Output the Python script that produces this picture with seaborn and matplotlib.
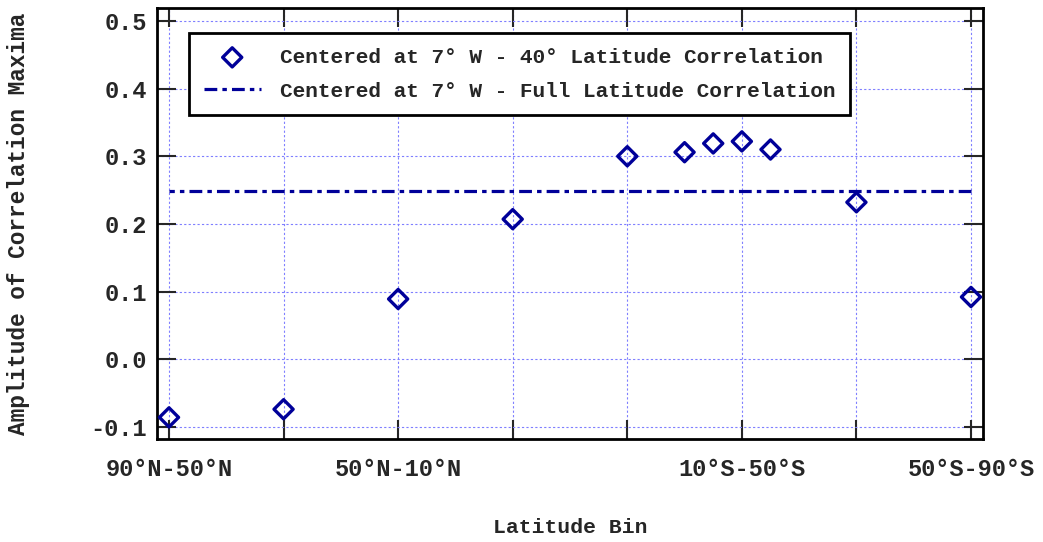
import numpy as np
import pandas as pd
import matplotlib
matplotlib.use('Agg')
import matplotlib.pyplot as plt
import seaborn as sns
from matplotlib.ticker import FormatStrFormatter

# latitude bin centres (degrees, north positive) and correlation maxima
lat_center = [70, 50, 30, 10, -10, -20, -25, -30, -35, -50, -70]
corr_max = [-0.086, -0.074, 0.089, 0.207, 0.300, 0.306, 0.319, 0.322, 0.310, 0.232, 0.092]

# full latitude correlation (constant)
full_lat = [70, -70]
full_corr = [0.248, 0.248]

tick_pos = [70, 50, 30, 10, -10, -30, -50, -70]
tick_labels = ['90°N-50°N', '', '50°N-10°N', '', '', '10°S-50°S', '', '50°S-90°S']
y_ticks = [-0.1, 0.0, 0.1, 0.2, 0.3, 0.4, 0.5]

sns.set_style('white')
plt.rcParams['font.family'] = ['Liberation Mono', 'DejaVu Sans Mono']
plt.rcParams['font.weight'] = 'bold'

navy = '#000099'

fig = plt.figure(figsize=(10.43, 5.42), dpi=100)
ax = fig.add_axes([0.1505, 0.19, 0.792, 0.795])

df = pd.DataFrame({'lat': lat_center, 'corr': corr_max})
sns.scatterplot(data=df, x='lat', y='corr', ax=ax, marker='D', s=95,
                facecolor='none', edgecolor=navy, linewidth=2.4, zorder=5,
                label='Centered at 7° W - 40° Latitude Correlation')
sns.lineplot(x=full_lat, y=full_corr, ax=ax, color=navy, linewidth=2.3,
             dashes=False, zorder=4,
             label='Centered at 7° W - Full Latitude Correlation')
ax.lines[-1].set_dashes([4, 1.6, 1.4, 1.6])

ax.set_xlim(72.1, -72.1)
ax.set_ylim(-0.118, 0.519)
ax.set_xticks(tick_pos)
ax.set_xticklabels(tick_labels)
ax.set_yticks(y_ticks)
ax.yaxis.set_major_formatter(FormatStrFormatter('%.1f'))

ax.grid(True, color='#7f7fff', linestyle=(0, (2, 2)), linewidth=0.8)
ax.set_axisbelow(True)

for sp in ax.spines.values():
    sp.set_visible(True)
    sp.set_color('black')
    sp.set_linewidth(2)

ax.tick_params(axis='both', direction='in', length=14, width=1.5,
               top=True, right=True, bottom=True, left=True, labelsize=17)
ax.tick_params(axis='x', pad=14)
ax.tick_params(axis='y', pad=7)

ax.set_xlabel('Latitude Bin', fontsize=15.4, fontweight='bold', labelpad=26)
ax.set_ylabel('Amplitude of Correlation Maxima', fontsize=16.4, fontweight='bold', labelpad=44)

leg = ax.legend(loc='upper left', bbox_to_anchor=(0.0387, 0.942), borderaxespad=0,
                fontsize=15.2, frameon=True, fancybox=False, handlelength=2.7,
                handletextpad=0.9, borderpad=0.7, labelspacing=0.7)
leg.get_frame().set_edgecolor('black')
leg.get_frame().set_linewidth(2)
leg.get_frame().set_alpha(1)

fig.savefig('out.png', dpi=100)
